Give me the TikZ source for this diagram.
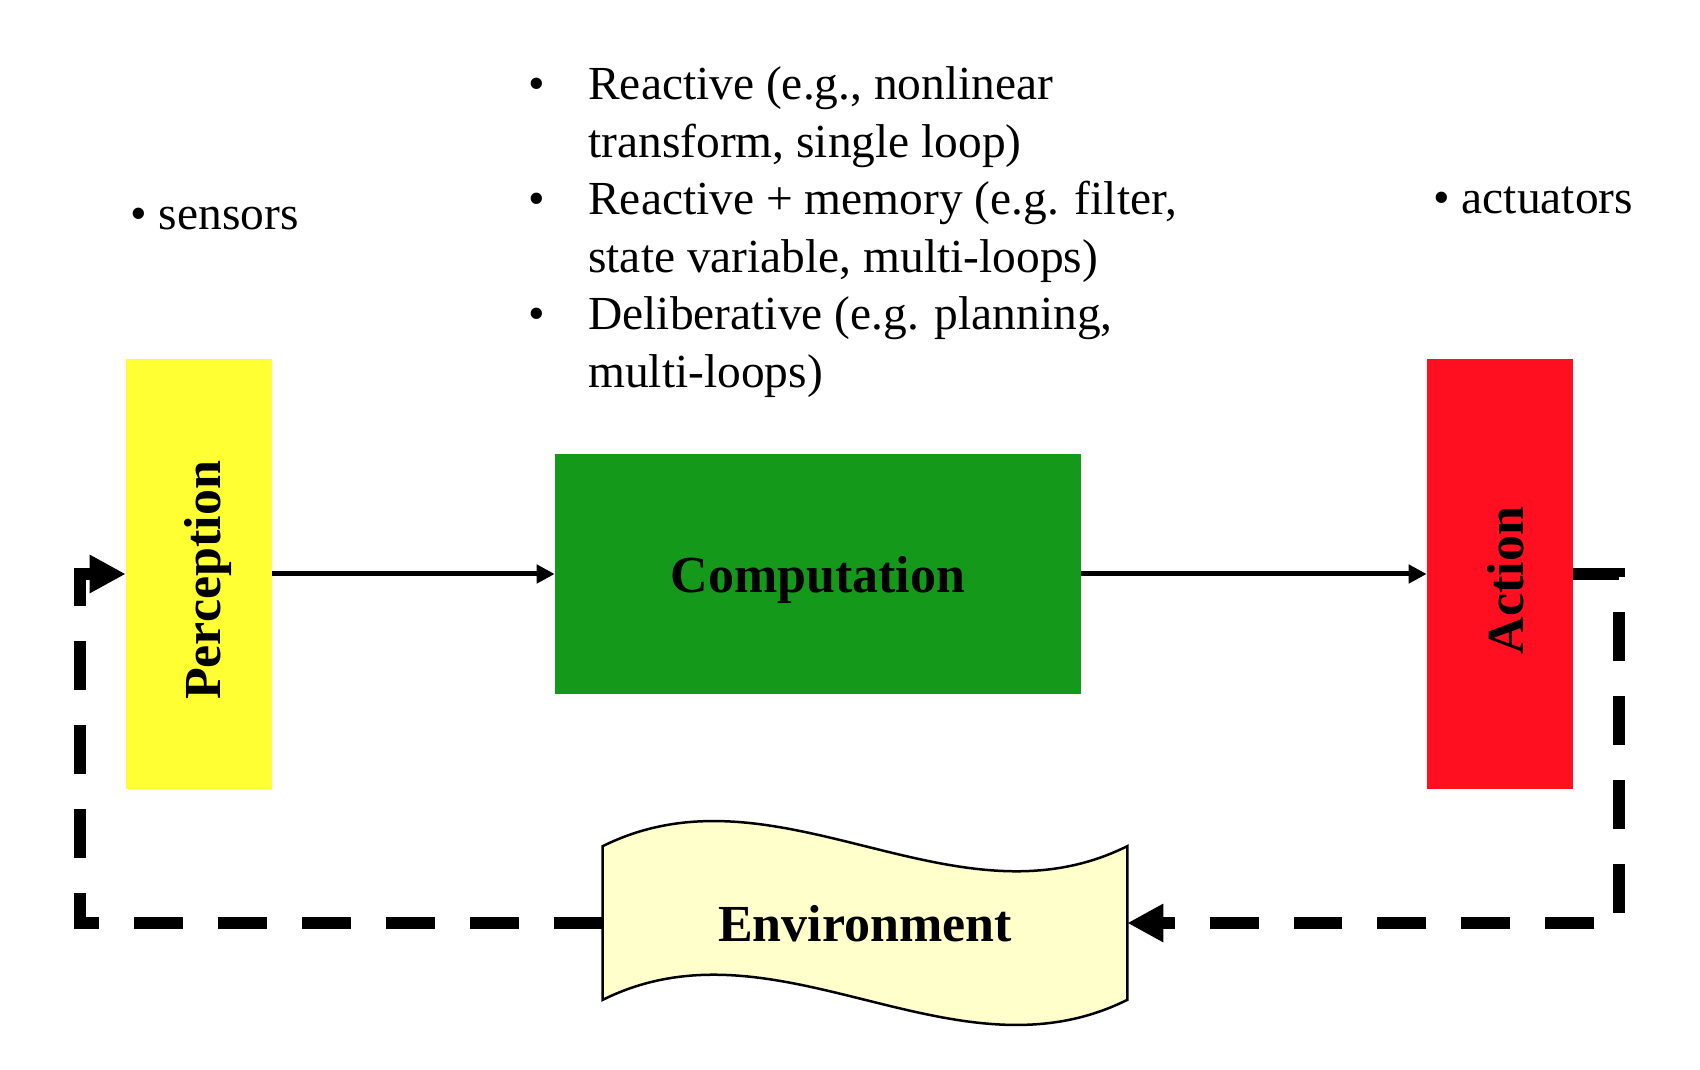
\documentclass[tikz,border=0pt]{standalone}
\usepackage{fontspec}
\usepackage{graphicx}
\setmainfont{Liberation Serif}
\usetikzlibrary{arrows.meta,positioning,calc,backgrounds}

\definecolor{percyellow}{HTML}{FFFF33}
\definecolor{compgreen}{HTML}{14991A}
\definecolor{actred}{HTML}{FF0F1F}
\definecolor{envyellow}{HTML}{FFFFCC}

\newcommand{\blt}{\makebox[1.2cm][l]{\textbullet}}
% rotated label, nudged inside its box: #1 extra height, #2 extra length
\newcommand{\vlabel}[3]{\rotatebox{90}{\raisebox{0pt}[\dimexpr\height+#1][\depth]{#3}\hspace{#2}}}

\begin{document}
\begin{tikzpicture}[
  x=0.02cm, y=-0.02cm,
  block/.style={rectangle,inner sep=0pt,font=\fontsize{29.6}{35}\selectfont\bfseries},
  vblock/.style={block,minimum width=2.92cm,minimum height=8.62cm},
  envbox/.style={block,minimum width=10.48cm,minimum height=3.06cm,text depth=0pt},
  note/.style={inner sep=0pt,font=\fontsize{27}{32.7}\selectfont},
  flow/.style={-{Triangle[length=0.36cm,width=0.36cm]},line width=0.1cm},
  fback/.style={-{Triangle[length=0.72cm,width=0.72cm]},line width=0.24cm,
    dash pattern=on 0.98cm off 0.7cm},
]
  \useasboundingbox (0,0) rectangle (1700,1070);

  % the three stages
  \node[vblock,fill=percyellow] (perc) at (199,574) {\vlabel{0.36cm}{0.26cm}{Perception}};
  \node[block,fill=compgreen,minimum width=10.52cm,minimum height=4.8cm,text depth=0pt]
     (comp) at (818,574) {Computation};
  \node[vblock,fill=actred] (act) at (1500,574) {\vlabel{0.22cm}{0.26cm}{Action}};

  % environment, wavy outline behind the label
  \node[envbox] (env) at (865,923) {Environment};
  \begin{scope}[on background layer]
    \draw[fill=envyellow,line width=0.05cm]
      (env.north west) .. controls +(175,-87) and +(-175,87) .. (env.north east)
      -- (env.south east) .. controls +(-175,87) and +(175,-87) .. (env.south west)
      -- cycle;
  \end{scope}

  % notes
  \node[note,anchor=base west] (sens) at (130,230) {\textbullet\ sensors};
  \node[note,anchor=base west] (actu) at (1433,214) {\textbullet\ actuators};
  \node[note,anchor=base west] (modes) at (528,100) {%
    \begin{tabular}[t]{@{}l@{}l@{}}
      \blt & Reactive (e.g., nonlinear\\
           & transform, single loop)\\
      \blt & Reactive + memory (e.g. filter,\\
           & state variable, multi-loops)\\
      \blt & Deliberative (e.g. planning,\\
           & multi-loops)
    \end{tabular}};

  % signal flow
  \draw[flow] (perc.east) -- (comp.west);
  \draw[flow] (comp.east) -- (act.west);
  \draw[fback] (act.east) -- ++(46,0) |- (env.east);
  \draw[fback] (env.west) -- ++(-523,0) |- (perc.west);
\end{tikzpicture}
\end{document}
